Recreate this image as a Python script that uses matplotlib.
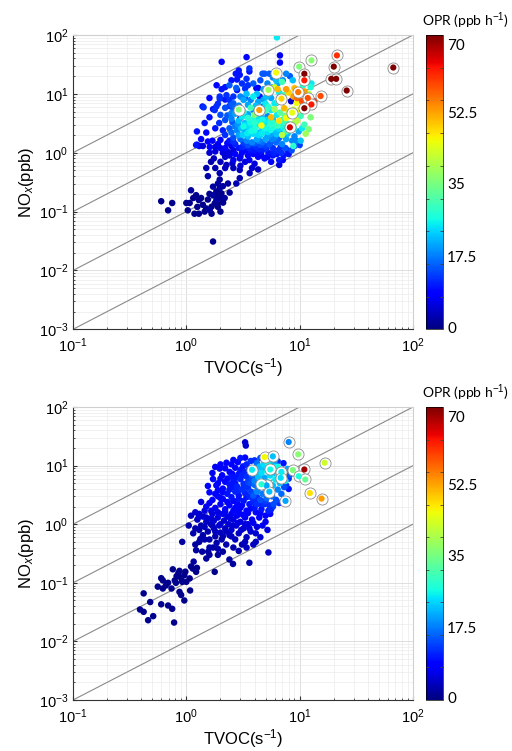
import numpy as np
import matplotlib
matplotlib.use('Agg')
from matplotlib import pyplot as plt
from matplotlib.ticker import LogLocator, FixedLocator

plt.rcParams['font.family'] = ['Liberation Sans', 'DejaVu Sans']
plt.rcParams['mathtext.fontset'] = 'custom'
plt.rcParams['mathtext.rm'] = 'Liberation Sans'
plt.rcParams['mathtext.it'] = 'Liberation Sans:italic'
plt.rcParams['mathtext.bf'] = 'Liberation Sans:bold'

# ---- top panel: (TVOC, NOx, OPR) ----
top_pts = [
    # low tail
    (0.60, 0.15, 1), (0.69, 0.105, 1), (0.75, 0.14, 1), (1.0, 0.14, 1), (1.07, 0.14, 1),
    (1.03, 0.105, 1), (1.1, 0.23, 2), (1.22, 0.19, 1), (1.29, 0.157, 1), (1.25, 0.12, 1),
    (1.18, 0.092, 1), (1.29, 0.092, 1), (1.45, 0.1, 1), (1.61, 0.106, 2), (1.67, 0.121, 1),
    (1.5, 0.113, 1), (1.67, 0.092, 1), (1.78, 0.138, 1), (1.84, 0.157, 2), (1.97, 0.147, 1),
    (2.11, 0.142, 1), (2.18, 0.17, 2), (2.04, 0.18, 1), (1.84, 0.18, 1), (1.72, 0.19, 2),
    (1.84, 0.22, 1), (1.97, 0.25, 2), (2.04, 0.204, 1), (1.72, 0.265, 2), (1.55, 0.40, 3),
    (1.97, 0.35, 2), (2.33, 0.30, 2), (2.41, 0.21, 2), (1.72, 0.031, 1), (1.97, 0.45, 3),
    (2.26, 0.62, 4), (2.76, 0.30, 3), (2.96, 0.51, 4), (2.96, 0.37, 3), (3.62, 0.45, 4),
    (4.3, 0.52, 4), (2.55, 0.66, 4), (6.6, 0.62, 6), (7.1, 0.75, 8), (2.41, 0.9, 5),
    (2.96, 0.8, 5), (1.4, 0.13, 1), (1.35, 0.17, 1), (1.9, 0.12, 1), (2.0, 0.1, 1),
    (1.55, 0.16, 1), (1.15, 0.17, 1), (1.6, 0.2, 1), (2.1, 0.27, 2), (1.9, 0.3, 2),
    (1.5, 0.55, 3), (1.75, 0.8, 4), (2.0, 0.7, 4), (2.2, 0.85, 5), (1.6, 1.0, 5),
    (2.6, 1.1, 6), (2.3, 1.05, 5), (1.3, 1.3, 6), (1.4, 1.3, 6), (1.8, 1.25, 6),
    (2.1, 1.0, 6), (1.9, 1.4, 7), (2.5, 1.3, 7), (1.7, 1.6, 8),
    # upper scatter
    (6.3, 91, 25), (2.05, 35, 8), (3.4, 42, 8), (6.7, 45, 7), (6.7, 34, 9),
    (1.39, 6.1, 10), (1.72, 5.5, 10), (1.84, 6.1, 12), (1.97, 9.0, 12), (2.26, 9.5, 12),
    (2.4, 7.9, 12), (2.5, 6.5, 15), (2.73, 22, 10), (2.8, 17.5, 10), (2.96, 21, 10),
    (2.8, 11.6, 10), (3.3, 12.3, 12), (3.6, 24, 10), (4.15, 12.5, 8), (4.7, 22, 15),
    (5.4, 22, 15), (5.8, 19, 18), (6.4, 15, 20), (7.1, 17, 18), (7.6, 22, 18),
    (8.2, 20, 15), (8.7, 17, 22), (3.0, 9, 18), (3.4, 10, 22), (3.7, 7.9, 18),
    (2.6, 6.9, 15), (2.9, 6.3, 18), (3.2, 7.9, 20), (2.4, 6.2, 12), (2.6, 5.3, 15),
    (3.9, 9, 25), (4.3, 7.3, 20), (4.75, 6.1, 15), (5.1, 9, 22), (5.6, 8.5, 20),
    (6.0, 6.9, 25), (6.7, 9.0, 5), (5.6, 5.3, 25), (3.9, 5.3, 18), (4.15, 4.5, 22),
    (3.5, 4.5, 20), (3.6, 27, 12), (3.4, 18, 12), (3.9, 15, 15), (4.9, 22, 15),
    (2.4, 14, 15), (1.97, 8.3, 12), (2.76, 12.6, 15), (4.44, 9, 10), (1.24, 2.3, 10),
    (1.22, 1.35, 10), (2.0, 4.4, 14), (2.5, 4.7, 18), (1.78, 5.3, 12), (1.42, 5.9, 12),
    (4.3, 12.6, 4), (6.9, 8.0, 4), (3.6, 2.7, 4), (5.8, 3.3, 4), (8.4, 7.5, 5), (3.0, 3.9, 6),
    (1.24, 1.37, 9), (1.61, 1.25, 9),
    (2.2, 13, 10), (2.5, 17, 10), (3.1, 15, 12), (3.5, 14, 12), (2.9, 25, 10),
    (4.5, 17, 14), (5.2, 15, 18), (5.8, 13, 20), (6.2, 17, 22), (4.8, 12, 20),
    (4.2, 10, 22), (3.3, 8.5, 15), (2.2, 8, 10), (2.05, 12, 10), (1.6, 8.5, 9),
    (1.85, 14, 9), (2.6, 9, 12), (4.8, 8, 20), (5.4, 10, 22), (6.5, 7.5, 28),
    (7.2, 9.5, 30), (5.0, 6.8, 25), (4.1, 6.3, 22), (3.5, 6.5, 20), (4.5, 5.0, 24),
    (3.3, 4.3, 22), (2.7, 5.8, 16), (2.2, 5.8, 14), (1.9, 6.8, 12), (1.6, 4.0, 10),
    (1.45, 3.2, 10), (1.95, 3.2, 12), (2.2, 3.6, 14), (1.8, 2.6, 10), (1.5, 2.2, 9),
    (2.1, 2.4, 11), (1.35, 1.7, 8), (1.55, 1.55, 8),
    # dense centre
    (2.3, 4.3, 15), (2.5, 3.8, 18), (2.7, 4.6, 20), (2.9, 3.5, 22), (3.1, 4.1, 25),
    (3.3, 3.2, 22), (3.5, 3.9, 28), (3.7, 3.0, 25), (3.9, 3.6, 27), (4.1, 2.8, 24),
    (4.4, 3.4, 26), (4.7, 2.6, 22), (5.0, 3.2, 25), (5.3, 2.5, 24), (5.6, 3.0, 28),
    (6.0, 2.4, 22), (6.4, 2.9, 30), (6.8, 2.2, 20), (7.2, 2.6, 25), (7.8, 2.1, 22),
    (8.4, 2.5, 20), (9.0, 1.9, 18), (8.6, 1.6, 18), (6.0, 1.8, 18), (5.2, 1.9, 20),
    (4.5, 2.0, 22), (3.9, 2.1, 24), (3.3, 2.3, 20), (2.8, 2.4, 18), (2.4, 2.6, 15),
    (2.2, 2.0, 12), (2.6, 1.8, 14), (3.0, 1.7, 16), (3.4, 1.6, 18), (3.8, 1.5, 18),
    (4.2, 1.7, 20), (4.7, 1.5, 16), (5.4, 1.4, 15), (6.2, 1.5, 16), (7.0, 1.4, 18),
    (7.6, 1.7, 20), (3.2, 2.8, 26), (3.6, 2.5, 24), (4.0, 2.4, 26), (4.3, 2.2, 22),
    (4.8, 2.3, 24), (5.6, 2.1, 20), (6.6, 1.8, 14), (3.5, 1.9, 22), (2.9, 2.0, 20),
    (2.5, 2.2, 16), (4.6, 4.0, 22), (5.2, 4.2, 18), (5.8, 3.8, 22), (6.3, 4.4, 25),
    (7.0, 3.6, 28), (7.6, 3.2, 30), (8.2, 3.0, 33), (8.9, 2.6, 28), (9.8, 2.3, 20),
    (10.5, 2.6, 25), (11.0, 3.0, 30), (9.5, 3.5, 40), (6.7, 4.8, 32), (6.0, 5.5, 38),
    (5.3, 6.0, 28), (4.7, 5.4, 32), (4.2, 5.0, 45), (3.7, 5.8, 30), (3.2, 5.0, 28),
    (8.0, 5.0, 40), (9.0, 4.2, 45), (7.4, 4.2, 33), (7.0, 2.0, 40), (8.8, 1.3, 28),
    (11.3, 2.1, 38),
    (3.15, 2.0, 23), (3.45, 2.15, 25), (3.75, 2.35, 26), (4.05, 2.6, 27), (4.35, 2.0, 24),
    (4.65, 2.15, 25), (4.95, 2.6, 26), (5.25, 2.25, 24), (5.55, 2.45, 26), (5.85, 2.7, 27),
    (6.25, 2.05, 22), (6.55, 2.55, 24), (7.0, 2.9, 26), (7.4, 1.9, 20), (8.0, 2.3, 22),
    (3.05, 2.6, 22), (3.35, 2.95, 24), (3.65, 3.3, 26), (4.0, 3.2, 28), (4.3, 3.8, 24),
    (4.7, 3.6, 26), (5.1, 3.6, 24), (5.5, 3.4, 26), (5.9, 3.2, 28), (6.7, 3.1, 27),
    (7.3, 3.4, 24), (2.7, 2.8, 17), (2.55, 3.3, 15), (2.85, 3.0, 19), (3.5, 1.35, 14),
    (4.0, 1.45, 15), (4.4, 1.6, 18), (5.0, 1.7, 20), (5.7, 1.7, 18), (6.4, 1.65, 16),
    # lower blue
    (2.9, 1.2, 10), (3.1, 1.0, 9), (3.3, 1.3, 12), (3.5, 0.9, 8), (3.7, 1.1, 10),
    (3.9, 0.95, 9), (4.1, 1.25, 12), (4.3, 0.85, 8), (3.0, 0.85, 7), (2.7, 0.95, 8),
    (3.6, 0.75, 7), (4.6, 1.05, 10), (4.9, 0.8, 9), (5.3, 1.0, 10), (5.8, 1.2, 12),
    (6.3, 0.95, 10), (6.9, 1.0, 12), (7.5, 1.2, 14), (8.0, 0.95, 10), (5.6, 0.7, 8),
    (6.6, 0.75, 10), (4.0, 0.65, 6), (3.3, 0.7, 6), (2.6, 0.75, 7), (4.5, 1.35, 14),
    (5.0, 1.3, 13), (3.8, 1.35, 12), (3.2, 1.5, 13), (2.7, 1.4, 11), (2.4, 1.6, 10),
    (2.2, 1.2, 8), (4.2, 1.05, 9), (4.8, 1.15, 11), (5.5, 1.45, 14), (6.8, 1.25, 12),
    (7.8, 1.1, 10), (9.0, 1.3, 14), (10.2, 1.6, 22), (10.0, 1.35, 13),
    (2.0, 1.65, 9), (2.3, 1.45, 9), (3.1, 1.25, 11), (3.6, 1.2, 11), (4.0, 1.1, 10),
    (4.4, 1.15, 11), (5.1, 1.2, 12), (5.9, 1.0, 11), (6.5, 1.1, 12), (7.2, 0.9, 10),
    (2.6, 1.55, 12), (2.0, 1.2, 7), (1.8, 1.05, 6), (2.4, 0.95, 6), (3.4, 1.1, 9),
    (4.6, 0.9, 9), (5.2, 0.85, 9), (5.8, 0.9, 10), (8.5, 1.1, 14), (9.3, 1.6, 18),
    (3.0, 0.6, 5), (3.8, 0.55, 5), (2.2, 0.55, 4), (1.8, 0.55, 3), (1.65, 0.7, 3),
    (2.6, 0.55, 4),
    # orange cluster
    (7.6, 12, 52), (8.8, 9, 52), (10, 10, 55), (11.4, 8.5, 55), (12.5, 8, 62),
    (13, 6, 62), (11.8, 6.5, 55), (9.4, 7, 45), (10, 5.4, 45), (8.8, 5.4, 42),
    (7.3, 7.9, 45), (8.2, 4.7, 45), (7.6, 3.9, 45), (7.3, 5.7, 50), (10.7, 14, 28),
    (12.7, 15, 25), (12.5, 13, 27), (6.0, 13, 42), (6.4, 12, 50), (9.0, 12.5, 50),
    (8.0, 10.5, 48), (12.0, 10.0, 40), (13.5, 7.5, 60), (10.5, 7.5, 58), (9.5, 8.5, 56),
    (11.0, 11, 52), (6.6, 10.5, 25), (7.0, 16, 30), (12.5, 4.0, 35), (10.2, 4.2, 30),
    (9.0, 3.2, 38), (12.0, 2.5, 35), (7.6, 2.3, 30), (6.6, 3.5, 47), (5.6, 4.0, 50),
    (4.6, 2.9, 45), (4.0, 4.4, 35), (5.0, 5.2, 30),
]
top_ring = [
    (6.2, 23, 45), (9.9, 29, 35), (12.7, 37, 36), (11.0, 22, 70), (11.0, 17, 62),
    (21.3, 45, 60), (20, 29, 70), (19, 18, 70), (21, 18, 70), (26, 11.4, 70),
    (15.3, 9.2, 58), (5.3, 11.7, 38), (2.9, 5.4, 36), (4.4, 5.3, 52), (8.2, 2.7, 65),
    (9.7, 10.7, 55), (11.8, 8.5, 58), (12.7, 6.6, 62), (11.0, 5.7, 70), (6.9, 8.3, 48),
    (67, 28, 70), (8.6, 4.8, 44),
]

# ---- bottom panel ----
bot_pts = [
    # tail
    (0.39, 0.035, 1), (0.42, 0.032, 1), (0.42, 0.066, 1), (0.46, 0.023, 1), (0.48, 0.047, 1),
    (0.51, 0.027, 1), (0.56, 0.086, 1), (0.60, 0.12, 1), (0.60, 0.043, 1), (0.62, 0.08, 1),
    (0.66, 0.09, 1), (0.62, 0.11, 1), (0.69, 0.041, 1), (0.69, 0.10, 1), (0.75, 0.036, 1),
    (0.78, 0.021, 1), (0.76, 0.17, 1), (0.74, 0.08, 1), (0.79, 0.11, 1), (0.85, 0.146, 1),
    (0.87, 0.16, 1), (0.90, 0.12, 1), (0.81, 0.10, 1), (0.92, 0.104, 1), (0.96, 0.135, 1),
    (1.0, 0.104, 1), (1.07, 0.119, 1), (0.87, 0.07, 1), (0.90, 0.062, 1), (0.96, 0.05, 1),
    (1.08, 0.074, 1), (1.14, 0.175, 1), (1.22, 0.154, 1), (1.24, 0.18, 1), (0.92, 0.50, 2),
    (1.16, 0.23, 2), (1.38, 0.34, 2), (1.5, 0.26, 2), (1.6, 0.30, 2), (1.56, 0.34, 2),
    (1.72, 0.40, 2), (1.78, 0.154, 1), (1.9, 0.30, 2), (2.1, 0.34, 2), (2.4, 0.25, 2),
    (2.58, 0.21, 2), (3.6, 0.22, 3), (5.3, 0.33, 4), (1.3, 0.5, 2), (1.33, 0.56, 3),
    (1.22, 0.36, 2), (1.1, 0.19, 1), (0.82, 0.13, 1), (0.98, 0.155, 1),
    # lower cluster
    (1.3, 0.8, 3), (1.4, 0.65, 3), (1.45, 0.9, 4), (1.55, 0.75, 3), (1.6, 0.55, 3),
    (1.65, 1.0, 4), (1.75, 0.85, 4), (1.8, 0.62, 3), (1.85, 0.48, 3), (1.95, 0.95, 5),
    (2.0, 0.72, 4), (2.05, 0.55, 3), (2.15, 1.15, 5), (2.2, 0.85, 4), (2.25, 0.45, 3),
    (2.35, 1.0, 5), (2.4, 0.65, 4), (2.5, 0.8, 5), (2.6, 1.2, 6), (2.7, 0.55, 4),
    (2.75, 0.95, 5), (2.9, 0.7, 4), (3.0, 1.1, 6), (3.1, 0.45, 3), (3.2, 0.85, 5),
    (3.4, 0.6, 4), (3.5, 1.0, 6), (3.7, 0.75, 5), (3.9, 0.45, 4), (4.2, 0.9, 6),
    (4.5, 0.6, 5), (1.5, 1.3, 5), (1.25, 1.2, 4), (1.1, 1.4, 4), (1.2, 1.6, 5),
    (1.7, 1.5, 6), (1.9, 1.3, 6), (2.1, 1.5, 7), (2.3, 1.35, 6), (2.8, 1.4, 7),
    (3.3, 1.3, 7), (3.8, 1.2, 7), (4.4, 1.3, 8), (5.0, 1.1, 7), (5.5, 1.5, 9),
    (1.35, 2.4, 6), (1.4, 1.35, 5), (1.29, 1.34, 5), (1.66, 1.7, 6), (1.5, 2.0, 7),
    (1.8, 1.9, 7), (2.0, 2.2, 8), (1.2, 0.45, 2), (1.6, 0.4, 3), (1.05, 0.95, 3),
    (1.15, 0.7, 3), (2.9, 0.35, 3), (2.6, 0.4, 3), (3.4, 0.4, 4), (4.1, 0.5, 4),
    (1.9, 0.38, 3),
    (1.75, 1.15, 5), (2.0, 1.0, 5), (2.25, 0.75, 4), (2.45, 1.25, 6), (2.55, 0.95, 5),
    (2.85, 1.05, 6), (3.05, 0.8, 5), (3.3, 1.0, 6), (3.6, 0.85, 6), (3.9, 1.05, 7),
    (4.1, 0.7, 5), (4.7, 0.95, 7), (5.2, 0.8, 6), (2.1, 0.62, 3), (2.5, 0.62, 4),
    (3.3, 0.5, 4), (1.65, 1.25, 5), (1.45, 1.7, 6), (1.3, 1.5, 5), (1.6, 2.3, 7),
    (1.35, 0.95, 3), (1.5, 1.1, 4), (1.8, 0.75, 4), (1.7, 0.95, 4), (1.45, 0.55, 3),
    (1.2, 0.85, 3),
    # middle blue
    (2.2, 1.8, 8), (2.4, 2.1, 9), (2.6, 1.7, 8), (2.8, 2.3, 9), (3.0, 1.9, 9),
    (3.2, 2.5, 10), (3.4, 1.7, 9), (3.6, 2.2, 10), (3.8, 2.8, 12), (4.0, 1.9, 10),
    (4.3, 2.4, 11), (4.6, 1.8, 10), (4.9, 2.2, 12), (5.3, 1.7, 11), (5.8, 2.0, 12),
    (1.7, 2.6, 8), (1.9, 3.0, 9), (2.1, 2.7, 9), (2.3, 3.3, 10), (2.5, 2.9, 10),
    (2.7, 3.6, 11), (2.9, 3.1, 10), (3.1, 3.9, 12), (3.3, 3.4, 11), (3.5, 4.2, 12),
    (3.7, 3.6, 13), (1.72, 5.9, 8), (1.84, 4.6, 9), (1.9, 3.8, 8), (2.1, 4.06, 9),
    (2.07, 6.85, 8), (2.4, 4.8, 10), (2.6, 5.5, 10), (2.8, 4.4, 11), (3.0, 5.9, 11),
    (3.2, 4.9, 12), (1.6, 3.5, 8), (1.55, 4.5, 8), (2.2, 5.3, 9), (1.97, 8.9, 8),
    (2.41, 7.8, 9), (2.7, 9.2, 9), (3.16, 9.7, 10), (2.26, 11.2, 8), (2.85, 11.5, 9),
    (2.5, 6.5, 10), (2.9, 7.2, 10), (3.4, 6.5, 12), (3.6, 8.9, 11), (4.0, 12.3, 12),
    (4.5, 13.5, 14), (3.3, 25, 5), (3.35, 22, 5), (3.3, 13.7, 8), (1.7, 7.5, 7),
    (2.0, 10.5, 8),
    (1.9, 1.6, 6), (2.2, 1.65, 7), (2.5, 1.5, 7), (2.7, 1.9, 8), (2.9, 1.6, 8),
    (3.15, 1.45, 8), (3.5, 1.55, 8), (3.7, 1.85, 9), (4.1, 1.6, 9), (4.5, 1.55, 9),
    (5.0, 1.4, 9), (5.6, 1.8, 11), (2.6, 2.5, 9), (2.9, 2.7, 10), (3.1, 2.1, 9),
    (3.4, 2.9, 10), (3.6, 3.0, 11), (3.9, 2.4, 11), (4.2, 2.9, 12), (4.6, 2.2, 11),
    (5.0, 2.5, 13), (5.4, 2.1, 12), (2.3, 2.4, 8), (2.0, 2.8, 8), (1.8, 3.3, 8),
    (2.1, 3.5, 9), (2.4, 3.9, 10), (2.6, 4.3, 10), (2.9, 3.8, 11), (3.2, 4.3, 12),
    (2.7, 5.0, 10), (2.3, 6.0, 9), (2.55, 7.2, 9), (2.8, 6.3, 10), (3.1, 6.8, 11),
    (3.3, 7.8, 11), (3.8, 6.1, 14), (3.5, 5.3, 13), (1.9, 5.0, 8), (2.0, 6.0, 8),
    (1.8, 9.5, 7), (2.2, 9.0, 9), (2.5, 10.5, 9), (3.0, 8.4, 10), (3.4, 10.5, 11),
    (3.7, 12.0, 12), (2.6, 12.5, 8), (3.0, 13.5, 10), (4.2, 11.0, 16), (4.4, 7.0, 20),
    (4.7, 8.5, 22), (4.0, 4.7, 16), (4.3, 4.0, 18),
    # upper right light blue
    (3.9, 3.1, 15), (4.2, 3.6, 18), (4.4, 4.5, 20), (4.7, 3.3, 17), (5.0, 4.0, 22),
    (5.2, 5.2, 24), (5.5, 3.6, 20), (5.8, 4.6, 22), (6.1, 5.8, 25), (6.4, 3.9, 18),
    (6.7, 5.0, 22), (7.0, 6.3, 24), (7.3, 4.3, 14), (4.0, 5.5, 18), (4.3, 6.5, 22),
    (4.6, 7.5, 24), (4.9, 6.2, 20), (5.2, 8.0, 26), (5.5, 6.8, 24), (5.8, 8.8, 25),
    (6.1, 7.4, 22), (6.4, 9.6, 26), (6.8, 8.0, 22), (4.1, 8.5, 20), (4.4, 9.6, 22),
    (4.8, 10.5, 24), (5.2, 11.3, 26), (5.6, 10.0, 22), (6.0, 12.0, 20), (3.8, 7.0, 16),
    (3.7, 5.0, 14), (4.5, 2.6, 14), (5.1, 2.8, 16), (5.7, 3.0, 16), (6.2, 2.6, 14),
    (6.9, 3.3, 16), (7.6, 4.6, 12), (8.0, 6.0, 12), (7.2, 7.2, 18), (6.6, 2.3, 12),
    (5.9, 2.2, 14), (4.2, 2.2, 12), (6.4, 11.9, 12), (7.2, 11.0, 10), (8.2, 7.0, 15),
    (8.0, 4.0, 10), (6.5, 6.8, 26), (7.5, 5.5, 25), (6.0, 9.5, 24), (5.5, 12.5, 22),
    (7.8, 8.8, 20),
]
bot_ring = [
    (8.0, 25.3, 18), (9.7, 15.6, 36), (16.6, 11.2, 42), (11.0, 8.6, 68), (8.7, 8.4, 35),
    (9.8, 6.6, 27), (11.2, 5.8, 33), (12.3, 3.4, 47), (15.6, 2.74, 52), (7.5, 2.5, 20),
    (4.9, 14, 45), (5.8, 14.4, 22), (6.9, 7.8, 25), (6.8, 6.2, 24), (5.1, 4.6, 20),
    (5.4, 3.6, 22), (4.6, 4.8, 28), (3.8, 8.5, 25), (5.5, 8.6, 26),
]

ratio_lines = [10, 1, 0.1, 0.01]
cbar_labels = ['0', '17.5', '35', '52.5', '70']
cbar_label_pos = [0.5, 17.4, 34.6, 51.6, 67.8]
opr_max = 70

fig = plt.figure(figsize=(5.12, 7.51), dpi=100)
panels = [(top_pts, top_ring, 0.5615, 0.9534), (bot_pts, bot_ring, 0.0679, 0.458)]

for pts, ring, y0, y1 in panels:
    ax = fig.add_axes([0.1426, y0, 0.664, y1 - y0])
    cax = fig.add_axes([0.832, y0, 0.033, y1 - y0])
    ax.set_xscale('log')
    ax.set_yscale('log')
    ax.set_xlim(0.1, 100)
    ax.set_ylim(1e-3, 100)

    ax.grid(True, which='major', color='#d9d9d9', lw=0.6)
    ax.grid(True, which='minor', color='#ececec', lw=0.5)
    ax.set_axisbelow(True)

    xx = np.array([0.1, 100])
    for k in ratio_lines:
        ax.plot(xx, k * xx, color='#8a8a8a', lw=0.8, zorder=1)

    arr = np.array(sorted(pts, key=lambda p: p[2]))
    sc = ax.scatter(arr[:, 0], arr[:, 1], c=arr[:, 2], cmap='jet', vmin=0, vmax=opr_max,
                    s=22, linewidths=0, zorder=2)
    rr = np.array(ring)
    ax.scatter(rr[:, 0], rr[:, 1], s=64, facecolors='white', edgecolors='#8c8c8c',
               linewidths=0.6, zorder=3)
    ax.scatter(rr[:, 0], rr[:, 1], c=rr[:, 2], cmap='jet', vmin=0, vmax=opr_max,
               s=20, linewidths=0, zorder=4)

    for s in ['top', 'right']:
        ax.spines[s].set_color('#d0d0d0')
    for s in ['left', 'bottom']:
        ax.spines[s].set_color('#333333')
        ax.spines[s].set_linewidth(0.8)
    ax.xaxis.set_major_locator(LogLocator(base=10, numticks=10))
    ax.yaxis.set_major_locator(LogLocator(base=10, numticks=10))
    ax.tick_params(which='both', direction='in', top=False, right=False, labelsize=10.5,
                   color='#333333')
    ax.tick_params(which='major', length=3)
    ax.tick_params(which='minor', length=1.5)
    ax.tick_params(axis='x', pad=5)
    ax.set_xlabel('TVOC(s$^{-1}$)', fontsize=12, labelpad=1)
    ax.set_ylabel('NO$_x$(ppb)', fontsize=12, labelpad=2)

    cb = fig.colorbar(sc, cax=cax)
    cb.set_ticks(cbar_label_pos)
    cb.ax.set_yticklabels(cbar_labels, family='Lato', fontsize=11)
    cb.ax.tick_params(which='major', length=0, pad=3)
    cb.ax.yaxis.set_minor_locator(FixedLocator(np.arange(1, 9) * opr_max / 9))
    cb.ax.tick_params(which='minor', direction='in', length=2, left=True, right=True,
                      color='#444444', width=0.6)
    cb.outline.set_linewidth(0.5)
    fig.text(0.908, y1 + 0.019, 'OPR (ppb h$^{-1}$)', ha='center', va='center',
             family='Lato', fontsize=10)

fig.savefig('out.png', dpi=100)
